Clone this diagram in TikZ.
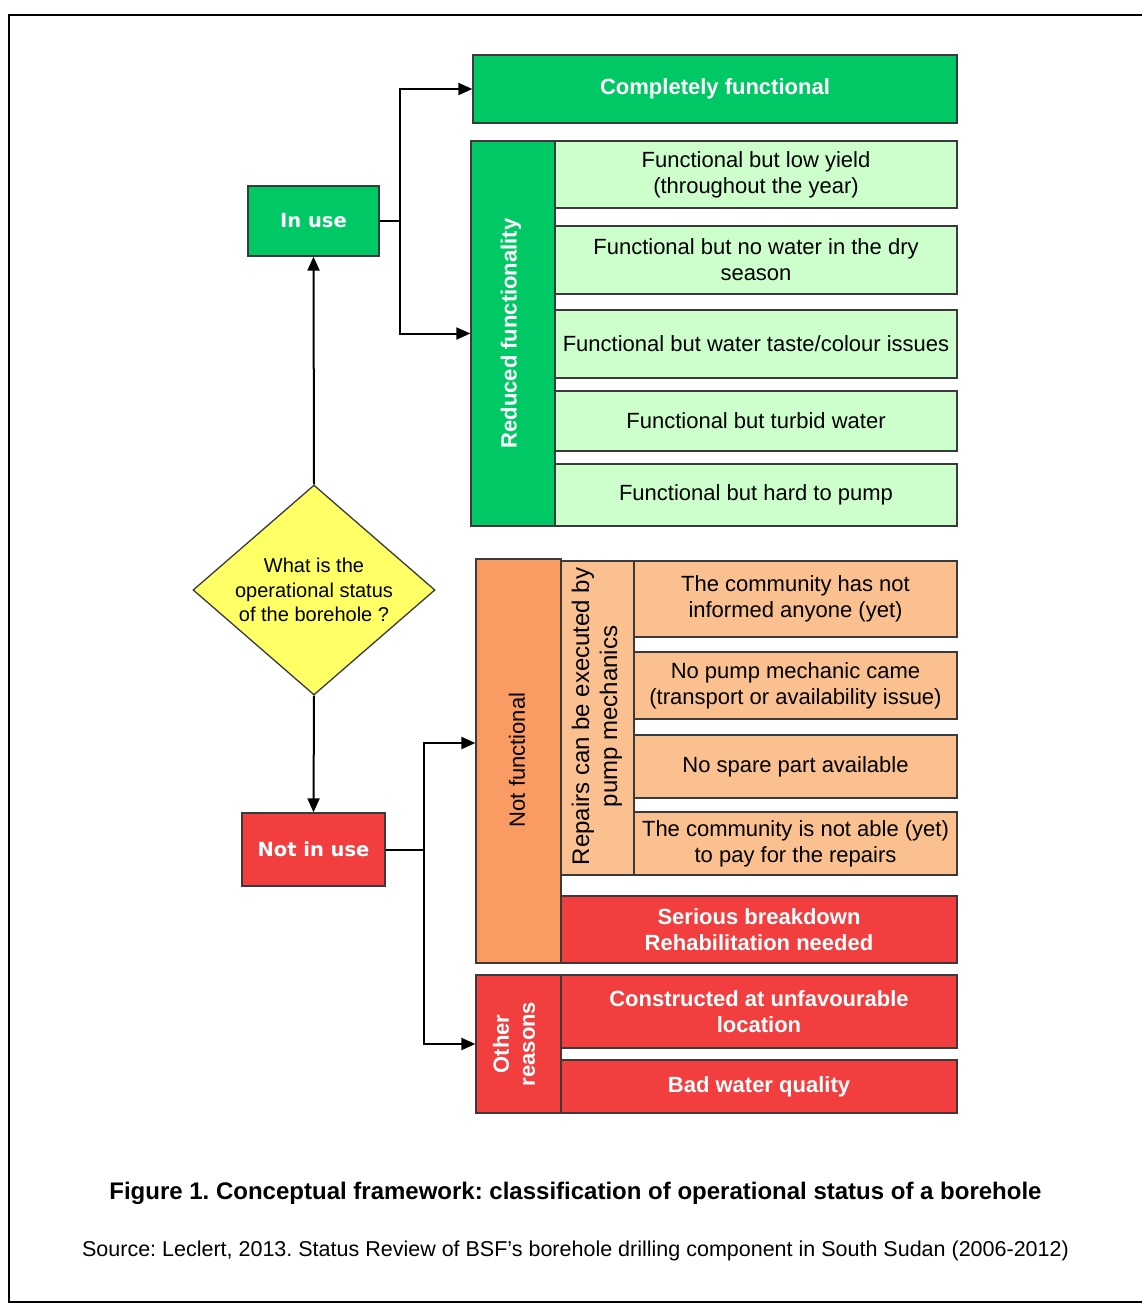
\documentclass[tikz,border=0pt]{standalone}
\usepackage{fontspec}
\setmainfont{Liberation Sans}
\newfontfamily\dvsans{DejaVu Sans}
\usetikzlibrary{shapes.geometric,arrows.meta,calc}
\definecolor{gdark}{HTML}{00C864}
\definecolor{glight}{HTML}{CCFFCC}
\definecolor{tanc}{HTML}{FAC090}
\definecolor{orangec}{HTML}{F99B62}
\definecolor{redc}{HTML}{F23E3E}
\definecolor{yellowc}{HTML}{FFFF66}
\definecolor{bord}{HTML}{3A3A3A}
\newcommand\myfs{\fontsize{22}{26}\selectfont}
\newcommand\myfsb{\fontsize{22}{26}\selectfont\bfseries}
\frenchspacing
\begin{document}
\begin{tikzpicture}[x=1pt,y=-1pt,
  box/.style={draw=bord, line width=1.3pt, inner sep=0pt, align=center, font=\myfs},
  lgbox/.style={box, fill=glight},
  dgbox/.style={box, fill=gdark, text=white, font=\myfsb},
  tanbox/.style={box, fill=tanc},
  redbox/.style={box, fill=redc, text=white, font=\myfsb},
  orbox/.style={box, fill=orangec},
  rot/.style={rotate=90, align=center, inner sep=0pt},
  status/.style={box, font=\dvsans\bfseries\fontsize{19.5}{23}\selectfont, text=white},
  arr/.style={line width=2pt, -{Triangle[length=14pt,width=12pt]}},
  conn/.style={line width=2pt}
]
\useasboundingbox (0,0) rectangle (1142,1304);
\fill[white] (0,0) rectangle (1142,1304);
\draw[line width=2.5pt] (1142,15) -- (9,15) -- (9,1302) -- (1142,1302);

% left column
\node[status, fill=gdark, minimum width=131pt, minimum height=70pt] (inuse) at (313.5,221) {In use};
\node[diamond, draw=bord, line width=1.3pt, fill=yellowc, inner sep=0pt,
      minimum width=242pt, minimum height=210pt] (q) at (314,590) {};
\node[align=center, font=\fontsize{20}{24.5}\selectfont] (qt) at (q) {What is the\\operational status\\of the borehole ?};
\node[status, fill=redc, minimum width=143pt, minimum height=73pt] (notinuse) at (313.5,849.5) {Not in use};

% in use branch
\node[dgbox, minimum width=484pt, minimum height=68pt] (complete) at (715,89) {Completely functional};
\node[box, fill=gdark, minimum width=84pt, minimum height=385pt] (reduced) at (513,333.5) {};
\node[rot, text=white, font=\myfsb] (reducedt) at (511,333.5) {Reduced functionality};
\node[lgbox, minimum width=402pt, minimum height=67pt] (f1) at (756,174.5) {Functional but low yield\\(throughout the year)};
\node[lgbox, minimum width=402pt, minimum height=68pt] (f2) at (756,260) {Functional but no water in the dry\\season};
\node[lgbox, minimum width=402pt, minimum height=68pt] (f3) at (756,344) {Functional but water taste/colour issues};
\node[lgbox, minimum width=402pt, minimum height=60pt] (f4) at (756,421) {Functional but turbid water};
\node[lgbox, minimum width=402pt, minimum height=62pt] (f5) at (756,495) {Functional but hard to pump};

% not in use branch
\node[orbox, minimum width=85pt, minimum height=404pt] (notfunc) at (518.5,761) {};
\node[rot, font=\myfs] (notfunct) at (517,760) {Not functional};
\node[tanbox, minimum width=73pt, minimum height=314pt] (repairs) at (597.5,718) {};
\node[rot, font=\fontsize{24}{28}\selectfont] (repairst) at (597,716.5) {Repairs can be executed by\\pump mechanics};
\node[tanbox, minimum width=323pt, minimum height=76pt] (t1) at (795.5,599) {The community has not\\informed anyone (yet)};
\node[tanbox, minimum width=323pt, minimum height=67pt] (t2) at (795.5,685.5) {No pump mechanic came\\(transport or availability issue)};
\node[tanbox, minimum width=323pt, minimum height=63pt] (t3) at (795.5,766.5) {No spare part available};
\node[tanbox, minimum width=323pt, minimum height=63pt] (t4) at (795.5,843.5) {The community is not able (yet)\\to pay for the repairs};
\node[redbox, minimum width=396pt, minimum height=67pt] (serious) at (759,929.5) {Serious breakdown\\Rehabilitation needed};
\node[box, fill=redc, minimum width=85pt, minimum height=138pt] (other) at (518.5,1044) {};
\node[rot, text=white, font=\myfsb] (othert) at (514,1044) {Other\\reasons};
\node[redbox, minimum width=396pt, minimum height=73pt] (constr) at (759,1011.5) {Constructed at unfavourable\\location};
\node[redbox, minimum width=396pt, minimum height=53pt] (badw) at (759,1086.5) {Bad water quality};

% connectors
\draw[arr] (q.north) -- (inuse.south);
\draw[arr] (q.south) -- (notinuse.north);
\coordinate (j1) at (400,221);
\draw[conn] (inuse.east) -- (j1);
\draw[arr] (j1) |- (complete.west);
\draw[arr] (j1) |- (reduced.west);
\coordinate (j2) at (424,849.5);
\draw[conn] (notinuse.east) -- (j2);
\draw[arr] (j2) |- ([yshift=18pt]notfunc.west);
\draw[arr] (j2) |- (other.west);

% caption
\node[font=\fontsize{24}{28}\selectfont\bfseries] (cap) at (575.5,1193) {Figure 1. Conceptual framework: classification of operational status of a borehole};
\node[font=\fontsize{21.5}{25}\selectfont] (src) at (575.5,1251) {Source: Leclert, 2013. Status Review of BSF’s borehole drilling component in South Sudan (2006-2012)};
\end{tikzpicture}
\end{document}
